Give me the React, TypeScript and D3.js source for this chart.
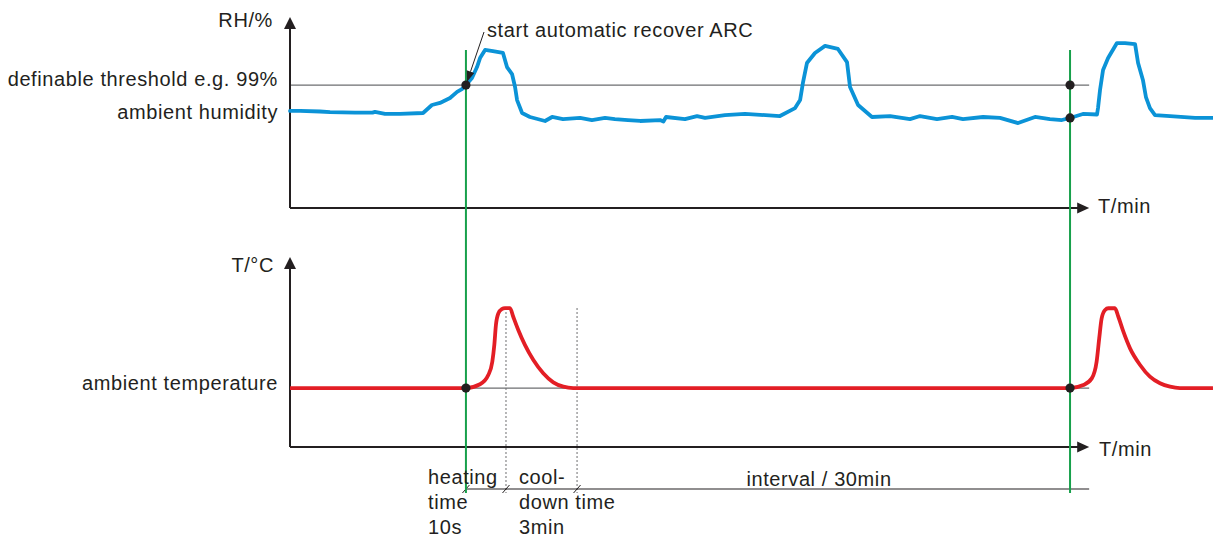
import React from "react";
import * as d3 from "d3";

// ---- data (time in minutes from axis origin; values in relative units 0..100) ----
const rhTime = [0, 0.5, 1.49, 1.99, 3.23, 4.1, 4.22, 4.72, 5.46, 6.61, 7.05, 7.45, 7.95, 8.3, 8.54, 8.74, 9.04, 9.29, 9.44, 9.69, 10.08, 10.58, 10.78, 11.03, 11.18, 11.28, 11.53, 11.92, 12.67, 13.02, 13.56, 14.41, 15.0, 15.65, 16.14, 16.79, 17.39, 18.38, 18.55, 18.68, 19.62, 20.22, 20.62, 21.61, 22.6, 24.34, 25.09, 25.34, 25.48, 25.68, 26.08, 26.58, 27.22, 27.67, 27.82, 28.22, 28.91, 29.81, 30.8, 31.3, 32.14, 32.89, 33.43, 34.43, 35.27, 36.17, 37.01, 37.75, 38.35, 38.75, 39.39, 40.09, 40.14, 40.24, 40.39, 40.64, 41.08, 41.48, 41.98, 42.13, 42.37, 42.52, 42.72, 42.97, 43.72, 44.96, 45.85];
const rhValue = [51.1, 51.1, 50.8, 50.5, 50.2, 50.2, 50.6, 49.5, 49.5, 50.0, 54.2, 55.3, 57.9, 61.1, 62.6, 64.7, 68.4, 74.2, 78.9, 83.2, 82.6, 81.6, 74.2, 70.5, 63.7, 56.8, 50.0, 47.9, 45.8, 47.9, 46.8, 47.4, 46.3, 47.4, 46.8, 46.3, 45.8, 46.3, 45.5, 47.9, 46.8, 48.4, 47.4, 48.9, 49.5, 48.4, 52.6, 56.8, 65.8, 76.3, 81.6, 85.3, 83.7, 76.8, 63.7, 54.2, 47.9, 48.4, 46.8, 48.4, 46.8, 47.9, 46.8, 47.9, 47.4, 44.7, 47.9, 46.8, 46.3, 47.4, 49.5, 49.2, 52.6, 62.1, 72.6, 78.9, 86.8, 86.8, 86.3, 76.3, 67.4, 58.4, 52.6, 48.9, 48.4, 47.4, 47.4];

const tempTime = [0, 8.74, 9.44, 9.85, 10.05, 10.15, 10.23, 10.35, 10.52, 10.68, 10.93, 11.09, 11.34, 11.67, 12.09, 12.58, 13.08, 13.58, 14.07, 38.75, 39.41, 39.83, 40.07, 40.2, 40.32, 40.49, 40.65, 40.98, 41.15, 41.4, 41.73, 42.23, 42.72, 43.22, 43.72, 44.21, 45.85];
const tempValue = [31.2, 31.2, 33.2, 38.1, 45.1, 54.0, 64.6, 70.7, 73.0, 73.5, 73.5, 68.9, 61.9, 54.0, 46.0, 39.0, 34.2, 31.9, 31.2, 31.2, 32.8, 36.3, 45.1, 57.5, 68.1, 72.5, 73.4, 73.4, 68.9, 61.0, 52.2, 43.4, 37.2, 33.7, 31.9, 31.2, 31.2];

const eventTimes = [8.74, 38.75]; // start of automatic recover (ARC)
const heatingEnd = 10.73;
const coolDownEnd = 14.26;
const threshold = 64.7; // definable threshold e.g. 99%
const ambientRhAtEvent2 = 47.4;
const ambientTemp = 31.2;
const axisEnd = 39.7;

const labels = {
  rhAxis: "RH/%",
  threshold: "definable threshold e.g. 99%",
  ambientRh: "ambient humidity",
  arc: "start automatic recover ARC",
  tAxis: "T/°C",
  ambientT: "ambient temperature",
  xAxis: "T/min",
  interval: "interval / 30min",
};

const W = 1213;
const H = 539;
const PX_PER_MIN = 20.13;
const X0 = 290;

const x = d3.scaleLinear().domain([0, 46]).range([X0, X0 + 46 * PX_PER_MIN]);
const yRh = d3.scaleLinear().domain([0, 100]).range([208, 18]);
const yT = d3.scaleLinear().domain([0, 100]).range([447, 258]);

const TEXT = "#231f20";
const FONT = "'Liberation Sans', Arial, Helvetica, sans-serif";

export default function App() {
  const rhLine = d3
    .line<number>()
    .x((_, i) => x(rhTime[i]))
    .y((d) => yRh(d))
    .curve(d3.curveLinear);
  const tLine = d3
    .line<number>()
    .x((_, i) => x(tempTime[i]))
    .y((d) => yT(d))
    .curve(d3.curveMonotoneX);

  const xEnd = x(axisEnd);
  const rhBase = yRh(0);
  const tBase = yT(0);
  const intervalY = 489;
  const greenTop = 50;
  const greenBottom = 493;

  const textStyle: React.CSSProperties = {
    fontFamily: FONT,
    fontSize: 20,
    letterSpacing: "0.6px",
    fill: TEXT,
  };

  const arrowUp = (cx: number, tip: number) =>
    `M${cx},${tip} L${cx - 6},${tip + 12} L${cx + 6},${tip + 12} Z`;
  const arrowRight = (tip: number, cy: number) =>
    `M${tip},${cy} L${tip - 12},${cy - 5.5} L${tip - 12},${cy + 5.5} Z`;

  const slash = (px: number) => `M${px - 3.5},${intervalY + 4} L${px + 3.5},${intervalY - 4}`;

  // annotation arrow
  const ax1 = 484, ay1 = 32;
  const ax2 = x(eventTimes[0]) + 1, ay2 = yRh(threshold) - 3;
  const ang = Math.atan2(ay2 - ay1, ax2 - ax1);
  const hl = 11, hw = 4;
  const bx = ax2 - hl * Math.cos(ang), by = ay2 - hl * Math.sin(ang);
  const head = `M${ax2},${ay2} L${bx + hw * Math.sin(ang)},${by - hw * Math.cos(ang)} L${bx - hw * Math.sin(ang)},${by + hw * Math.cos(ang)} Z`;

  return (
    <svg
      width={W}
      height={H}
      viewBox={`0 0 ${W} ${H}`}
      style={{ position: "absolute", left: 0, top: 0, background: "#fff" }}
    >
      <rect width={W} height={H} fill="#fff" />

      {/* reference lines */}
      <line x1={X0} x2={xEnd} y1={yRh(threshold)} y2={yRh(threshold)} stroke="#6d6e70" strokeWidth={1.2} />
      <line x1={X0} x2={xEnd} y1={yT(ambientTemp)} y2={yT(ambientTemp)} stroke="#6d6e70" strokeWidth={1.2} />

      {/* dotted helper lines */}
      {[heatingEnd, coolDownEnd].map((t, i) => (
        <line key={i} x1={x(t)} x2={x(t)} y1={308} y2={greenBottom} stroke="#6d6e70" strokeWidth={1} strokeDasharray="2,2" />
      ))}

      {/* interval line */}
      <line x1={x(eventTimes[0])} x2={xEnd} y1={intervalY} y2={intervalY} stroke={TEXT} strokeWidth={1.2} />
      {[eventTimes[0], heatingEnd, coolDownEnd].map((t, i) => (
        <path key={i} d={slash(x(t))} stroke={TEXT} strokeWidth={1} />
      ))}

      {/* axes */}
      <line x1={X0} x2={X0} y1={rhBase} y2={26} stroke={TEXT} strokeWidth={2} />
      <line x1={X0} x2={xEnd - 8} y1={rhBase} y2={rhBase} stroke={TEXT} strokeWidth={2} />
      <path d={arrowUp(X0, 17)} fill={TEXT} />
      <path d={arrowRight(xEnd, rhBase)} fill={TEXT} />

      <line x1={X0} x2={X0} y1={tBase} y2={266} stroke={TEXT} strokeWidth={2} />
      <line x1={X0} x2={xEnd - 8} y1={tBase} y2={tBase} stroke={TEXT} strokeWidth={2} />
      <path d={arrowUp(X0, 257)} fill={TEXT} />
      <path d={arrowRight(xEnd, tBase)} fill={TEXT} />

      {/* curves */}
      <path d={rhLine(rhValue) ?? ""} fill="none" stroke="#0b93d7" strokeWidth={3.8} strokeLinejoin="round" strokeLinecap="round" />
      <path d={tLine(tempValue) ?? ""} fill="none" stroke="#e31e25" strokeWidth={3.8} strokeLinejoin="round" />

      {/* green event lines */}
      {eventTimes.map((t, i) => (
        <line key={i} x1={x(t)} x2={x(t)} y1={greenTop} y2={greenBottom} stroke="#17a04b" strokeWidth={2} />
      ))}

      {/* dots */}
      <circle cx={x(eventTimes[0])} cy={yRh(threshold)} r={4.6} fill={TEXT} />
      <circle cx={x(eventTimes[1])} cy={yRh(threshold)} r={4.6} fill={TEXT} />
      <circle cx={x(eventTimes[1])} cy={yRh(ambientRhAtEvent2)} r={4.6} fill={TEXT} />
      <circle cx={x(eventTimes[0])} cy={yT(ambientTemp)} r={4.6} fill={TEXT} />
      <circle cx={x(eventTimes[1])} cy={yT(ambientTemp)} r={4.6} fill={TEXT} />

      {/* annotation arrow */}
      <line x1={ax1} y1={ay1} x2={bx} y2={by} stroke={TEXT} strokeWidth={1} />
      <path d={head} fill={TEXT} />

      {/* texts */}
      <text x={273} y={27} textAnchor="end" style={textStyle}>{labels.rhAxis}</text>
      <text x={278} y={86} textAnchor="end" style={textStyle}>{labels.threshold}</text>
      <text x={278} y={119} textAnchor="end" style={textStyle}>{labels.ambientRh}</text>
      <text x={487} y={37} style={textStyle}>{labels.arc}</text>
      <text x={1098} y={213} style={textStyle}>{labels.xAxis}</text>
      <text x={274} y={272} textAnchor="end" style={textStyle}>{labels.tAxis}</text>
      <text x={278} y={390} textAnchor="end" style={textStyle}>{labels.ambientT}</text>
      <text x={1099} y={456} style={textStyle}>{labels.xAxis}</text>

      <text x={428} y={484} style={textStyle}>heating</text>
      <text x={428} y={509} style={textStyle}>time</text>
      <text x={428} y={534} style={textStyle}>10s</text>
      <text x={519} y={484} style={textStyle}>cool-</text>
      <text x={519} y={509} style={textStyle}>down time</text>
      <text x={519} y={534} style={textStyle}>3min</text>
      <text x={819} y={486} textAnchor="middle" style={textStyle}>{labels.interval}</text>
    </svg>
  );
}
